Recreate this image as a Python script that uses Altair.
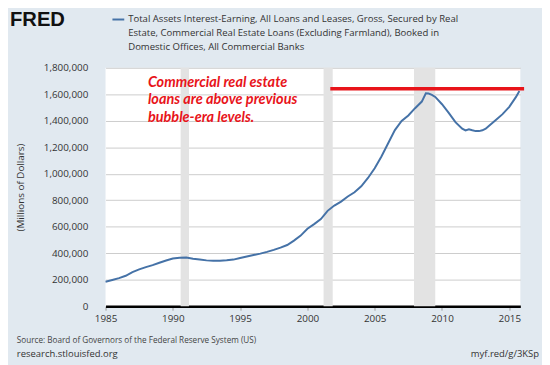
import altair as alt
import pandas as pd

# ---- data ----
years = [1985.0, 1985.5, 1986.0, 1986.5, 1987.0, 1987.5, 1988.0, 1988.5, 1989.0, 1989.5,
         1990.0, 1990.5, 1991.0, 1991.5, 1992.0, 1992.5, 1993.0, 1993.5, 1994.0, 1994.5,
         1995.0, 1995.5, 1996.0, 1996.5, 1997.0, 1997.5, 1998.0, 1998.5, 1999.0, 1999.5,
         2000.0, 2000.5, 2001.0, 2001.5, 2002.0, 2002.5, 2003.0, 2003.5, 2004.0, 2004.5,
         2005.0, 2005.5, 2006.0, 2006.5, 2007.0, 2007.5, 2008.0, 2008.5, 2008.8, 2009.0,
         2009.25, 2009.5, 2010.0, 2010.5, 2011.0, 2011.5, 2011.75, 2012.0, 2012.25, 2012.5,
         2012.75, 2013.0, 2013.25, 2013.5, 2014.0, 2014.5, 2015.0, 2015.5, 2015.75]
values = [185000, 198000, 212000, 230000, 258000, 278000, 295000, 310000, 328000, 345000,
          360000, 366000, 367000, 358000, 352000, 346000, 343000, 344000, 347000, 352000,
          364000, 375000, 386000, 397000, 410000, 425000, 442000, 462000, 495000, 533000,
          585000, 620000, 658000, 720000, 760000, 790000, 828000, 860000, 905000, 968000,
          1042000, 1130000, 1230000, 1330000, 1398000, 1440000, 1495000, 1545000, 1607000, 1606000,
          1596000, 1580000, 1525000, 1460000, 1390000, 1340000, 1327000, 1336000, 1328000, 1322000,
          1322000, 1328000, 1340000, 1362000, 1406000, 1450000, 1505000, 1580000, 1624000]

rec_start = [1990.58, 2001.2, 2007.92]
rec_end = [1991.2, 2001.88, 2009.5]

ref_start = [2001.7]
ref_end = [2016.1]
ref_level = [1642000]

x_ticks = [1985, 1990, 1995, 2000, 2005, 2010, 2015]
y_ticks = [0, 200000, 400000, 600000, 800000, 1000000, 1200000, 1400000, 1600000, 1800000]

legend_lines = ["Total Assets Interest-Earning, All Loans and Leases, Gross, Secured by Real",
                "Estate, Commercial Real Estate Loans (Excluding Farmland), Booked in",
                "Domestic Offices, All Commercial Banks"]
note_lines = ["Commercial real estate", "loans are above previous", "bubble-era levels."]

W, H = 421, 242
FONT = "Open Sans"

df = pd.DataFrame({"year": years, "value": values})
rec = pd.DataFrame({"start": rec_start, "end": rec_end})
ref = pd.DataFrame({"start": ref_start, "end": ref_end, "level": ref_level})

xscale = alt.Scale(domain=[1985, 2015.82], nice=False, zero=False)
yscale = alt.Scale(domain=[0, 1800000], nice=False)

xaxis = alt.Axis(values=x_ticks, format="d", title=None, grid=False, labelFlush=False,
                 domainColor="#000000", domainWidth=2.5, tickColor="#999999",
                 tickSize=4, labelPadding=4, labelFontSize=10, labelColor="#333333",
                 labelFont=FONT)
yaxis = alt.Axis(values=y_ticks, format=",.0f", title="(Millions of Dollars)",
                 domain=False, ticks=False, labelPadding=18, gridColor="#cccccc",
                 labelFontSize=10, labelColor="#333333", labelFont=FONT,
                 titleFont=FONT, titleFontSize=10, titleFontWeight="normal",
                 titleColor="#333333", titlePadding=18)

recs = alt.Chart(rec).mark_rect(color="#e3e3e3").encode(
    x=alt.X("start:Q", scale=xscale, axis=xaxis),
    x2="end:Q",
    y=alt.value(0), y2=alt.value(H)
)

line = alt.Chart(df).mark_line(color="#4572A7", strokeWidth=2).encode(
    x=alt.X("year:Q", scale=xscale, axis=xaxis),
    y=alt.Y("value:Q", scale=yscale, axis=yaxis)
)

rule = alt.Chart(ref).mark_rule(color="#e8141a", strokeWidth=3.5, clip=False).encode(
    x=alt.X("start:Q", scale=xscale, axis=xaxis), x2="end:Q",
    y=alt.Y("level:Q", scale=yscale, axis=yaxis)
)

one = pd.DataFrame({"k": [0]})

def txt(s, x, y, size, color="#333333", weight="normal", style="normal", align="left", font=FONT):
    return alt.Chart(one).mark_text(text=s, align=align, baseline="middle", fontSize=size,
                                    color=color, fontWeight=weight, fontStyle=style,
                                    font=font).encode(x=alt.value(x), y=alt.value(y))

layers = [recs, line, rule]
for i, s in enumerate(note_lines):
    layers.append(txt(s, 43, 15 + i * 18, 14.7, color="#e8141a", weight="bold", style="italic", font="Lato"))
for i, s in enumerate(legend_lines):
    layers.append(txt(s, 23, -49 + i * 13.8, 9.7))
layers.append(alt.Chart(one).mark_rule(color="#4572A7", strokeWidth=2).encode(
    x=alt.value(7), x2=alt.value(19), y=alt.value(-49)))
layers.append(txt("FRED", -97, -48, 20.5, color="#111111", weight="bold", font="Liberation Sans"))
layers.append(txt("Source: Board of Governors of the Federal Reserve System (US)", -90, 277, 8.3, color="#444444"))
layers.append(txt("research.stlouisfed.org", -90, 291, 9.6, color="#333333"))
layers.append(txt("myf.red/g/3KSp", 440, 291, 9.6, color="#333333", align="right"))

chart = alt.layer(*layers).properties(
    width=W, height=H,
    padding={"left": 99, "top": 58, "right": 22, "bottom": 58},
    autosize=alt.AutoSizeParams(type="none"),
    background="#e1e9f0"
).configure_view(fill="white", strokeWidth=0)

chart.save("out.html", embed_options={"renderer": "svg", "actions": False})
